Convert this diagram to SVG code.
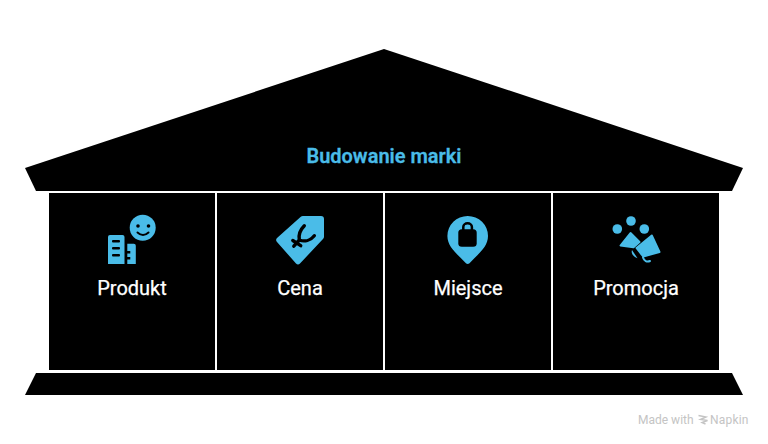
<svg xmlns="http://www.w3.org/2000/svg" width="768" height="444" viewBox="0 0 768 444">
<style>
.s{fill:#000}
.i{fill:#4abce8}
.k{fill:#000}
.r{stroke-linejoin:round;stroke:#4abce8}
text{font-family:Roboto,"Liberation Sans",sans-serif}
.l{font-size:20px;font-weight:400;fill:#fff;text-anchor:middle;stroke:#fff;stroke-width:.25}
.w{font-size:12px;fill:#c4c4c4}
</style>
<rect width="768" height="444" fill="#fff"/>
<g id="roof">
<polygon class="s" points="384,49 743,168 732,191 36,191 25,168"/>
<text x="384" y="163" text-anchor="middle" font-size="20" font-weight="600" fill="#4abce8" stroke="#4abce8" stroke-width=".3">Budowanie marki</text>
</g>
<g id="produkt">
<rect class="s" x="49" y="193" width="166" height="177"/>
<circle class="i" cx="142.700" cy="227.700" r="13"/>
<circle class="k" cx="138" cy="226" r="1.800"/>
<circle class="k" cx="148.500" cy="226" r="1.800"/>
<path d="M137.500 232.500q5.500 5 11 0" fill="none" stroke="#000" stroke-width="2" stroke-linecap="round"/>
<path class="i" d="M110 235h12.500a2 2 0 0 1 2 2v27H108V237a2 2 0 0 1 2-2z"/>
<path class="i" d="M127.300 243.700h6.500a2 2 0 0 1 2 2V264h-8.500v-4.500h3v-2.500h-3v-3.500h3v-2.500h-3z"/>
<rect class="k" x="112" y="240" width="8" height="2.500" rx="1"/>
<rect class="k" x="112" y="247" width="8" height="2.500" rx="1"/>
<rect class="k" x="112" y="254" width="8" height="2.500" rx="1"/>
<text class="l" x="132" y="295">Produkt</text>
</g>
<g id="cena">
<rect class="s" x="217" y="193" width="166" height="177"/>
<path class="i" d="M302.500 216h18.500a3 3 0 0 1 3 3V237a3 3 0 0 1-1 2l-23 24.500a3 3 0 0 1-4 0l-19-21.500a3 3 0 0 1 0-4l23.500-21a4 4 0 0 1 2.500-1z"/>
<path d="M304.300 225.700C300.500 229.500 298.300 234.500 299.300 240C304.500 242 310.500 240.500 314.300 235.700M299.300 240L293.800 246.200M292.800 240.500L300.700 245.700" fill="none" stroke="#000" stroke-width="3.400" stroke-linecap="round"/>
<text class="l" x="300" y="295">Cena</text>
</g>
<g id="miejsce">
<rect class="s" x="385" y="193" width="166" height="177"/>
<path class="i" d="M467.700 264c-1 0-2-.8-3-2-7-7.500-17.300-15-17.300-26a20.300 20 0 0 1 40.600 0c0 11-10.300 18.500-17.300 26-1 1.200-2 2-3 2z"/>
<rect class="k" x="458.300" y="229.300" width="18.400" height="17.400" rx="3.500"/>
<path d="M463.300 230v-3a4.300 3.700 0 0 1 8.600 0v3" fill="none" stroke="#000" stroke-width="2.500"/>
<text class="l" x="468" y="295">Miejsce</text>
</g>
<g id="promocja">
<rect class="s" x="553" y="193" width="166" height="177"/>
<circle class="i" cx="617.300" cy="229" r="4.800"/>
<circle class="i" cx="631" cy="221" r="4.800"/>
<circle class="i" cx="644.300" cy="229" r="4.800"/>
<path class="i r" d="M630.500 233l9 9-6 5.300-13-1.800z" stroke-width="2"/>
<path class="i r" d="M651.800 235.500l7.700 16.500-16.300 4.500-6.700-8.500z" stroke-width="2"/>
<path class="i" d="M632 250c-1.200 3.500 1.500 7 5.500 8.300z"/>
<path d="M643 257.500c1 3.500 4 5 7 3.500" fill="none" stroke="#4abce8" stroke-width="2" stroke-linecap="round"/>
<text class="l" x="636" y="295">Promocja</text>
</g>
<g id="base">
<polygon class="s" points="36,373 732,373 743,395 25,395"/>
</g>
<g id="connectors"></g>
<g id="watermark">
<text class="w" x="638" y="424">Made with</text>
<path d="M698.500 415.500l7.500 1.500-5.500 2.500 7 1-5.500 2 3.500 1.500" fill="none" stroke="#c4c4c4" stroke-width="1.400"/>
<text class="w" x="710" y="424" letter-spacing=".2">Napkin</text>
</g>
</svg>
